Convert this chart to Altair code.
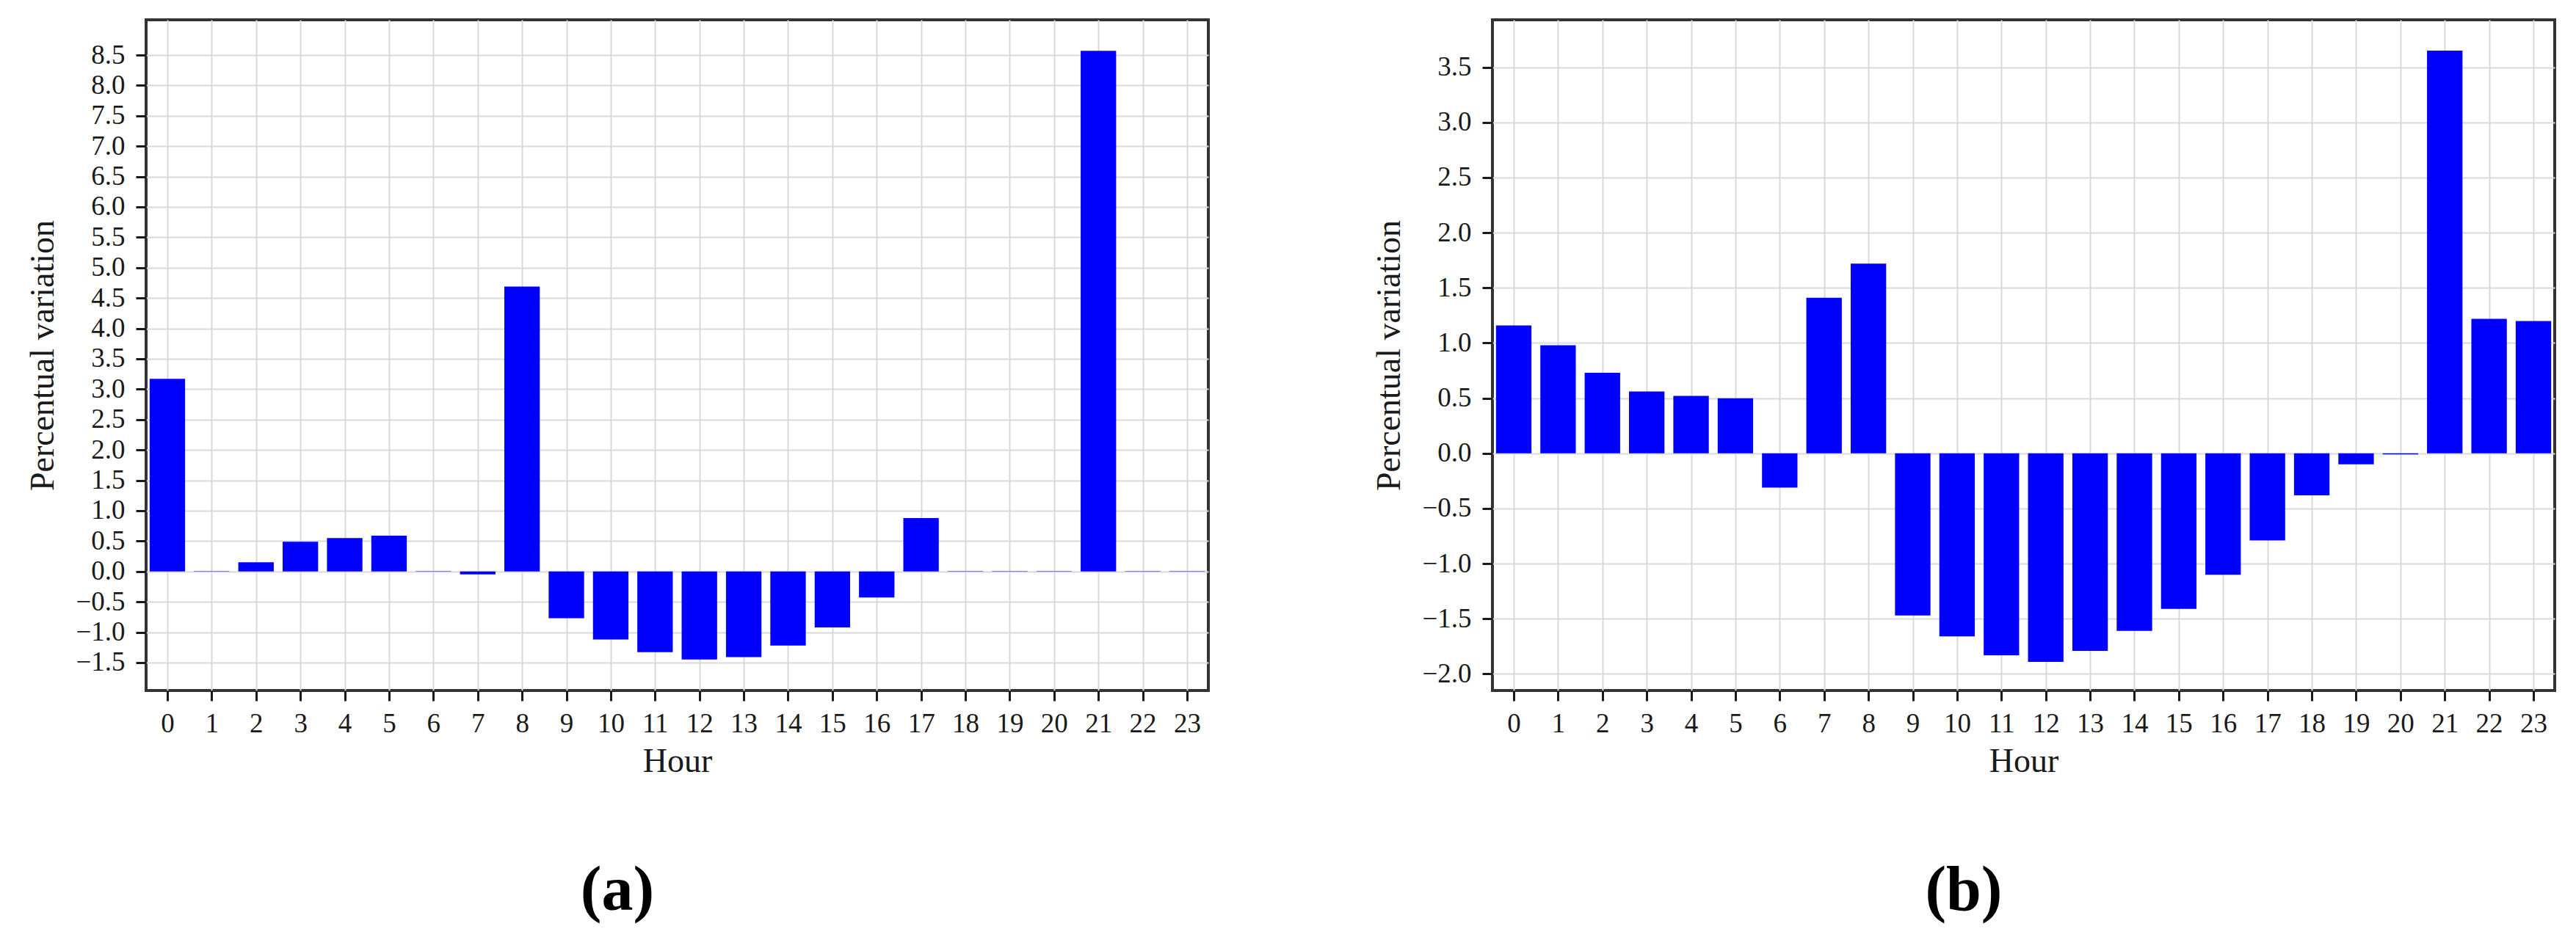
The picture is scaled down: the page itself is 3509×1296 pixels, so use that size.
import altair as alt
import pandas as pd

hours = list(range(24))

values_a = [3.17, 0.005, 0.15, 0.49, 0.55, 0.59, 0.005, -0.05, 4.69, -0.77,
            -1.12, -1.33, -1.45, -1.41, -1.22, -0.92, -0.43, 0.88, 0.005, 0.005,
            0.005, 8.57, 0.005, 0.005]
values_b = [1.16, 0.98, 0.73, 0.56, 0.52, 0.50, -0.31, 1.41, 1.72, -1.47,
            -1.66, -1.83, -1.89, -1.79, -1.61, -1.41, -1.10, -0.79, -0.38, -0.10,
            -0.01, 3.65, 1.22, 1.20]

yticks_a = [-1.5, -1.0, -0.5, 0.0, 0.5, 1.0, 1.5, 2.0, 2.5, 3.0, 3.5, 4.0,
            4.5, 5.0, 5.5, 6.0, 6.5, 7.0, 7.5, 8.0, 8.5]
yticks_b = [-2.0, -1.5, -1.0, -0.5, 0.0, 0.5, 1.0, 1.5, 2.0, 2.5, 3.0, 3.5]

ydomain_a = [-1.96, 9.08]
ydomain_b = [-2.15, 3.93]
xdomain = [-0.48, 23.48]

FONT = "Liberation Serif"
INK = "#1a1a1a"


def panel(values, yticks, ydomain, caption):
    df = pd.DataFrame({"hour": hours, "value": values})
    chart = (
        alt.Chart(df)
        .transform_calculate(x0="datum.hour - 0.4", x1="datum.hour + 0.4", zero="0")
        .mark_bar(color="#0000ff")
        .encode(
            x=alt.X(
                "x0:Q",
                scale=alt.Scale(domain=xdomain, nice=False, zero=False),
                axis=alt.Axis(values=hours, format="d", title="Hour",
                              labelFlush=False, labelOverlap=False,
                              labelPadding=13, titlePadding=11),
            ),
            x2="x1:Q",
            y=alt.Y(
                "value:Q",
                scale=alt.Scale(domain=ydomain, nice=False, zero=False),
                axis=alt.Axis(values=yticks, format=".1f",
                              title="Percentual variation",
                              labelFlush=False, labelOverlap=False,
                              labelPadding=15, titlePadding=20),
            ),
            y2="zero:Q",
        )
        .properties(
            width=1447,
            height=914,
            title=alt.TitleParams(
                caption, orient="bottom", anchor="middle", frame="bounds",
                fontSize=86, font=FONT, fontWeight="bold", color="black",
                offset=112,
            ),
        )
    )
    return chart


chart_a = panel(values_a, yticks_a, ydomain_a, "(a)")
chart_b = panel(values_b, yticks_b, ydomain_b, "(b)")

chart = (
    alt.hconcat(chart_a, chart_b, spacing=387, bounds="flush")
    .properties(padding={"left": 25, "top": 17, "right": 5, "bottom": 5},
                background="white")
    .configure_view(stroke="#333333", strokeWidth=4)
    .configure_axis(
        domain=False,
        grid=True,
        gridColor="#d9d9d9",
        gridWidth=2,
        ticks=True,
        tickColor=INK,
        tickWidth=3,
        tickSize=14,
        labelFont=FONT,
        labelFontSize=37,
        labelColor=INK,
        titleFont=FONT,
        titleFontSize=46,
        titleFontWeight="normal",
        titleColor=INK,
    )
)

chart.save("out.html", embed_options={"renderer": "svg", "actions": False})
